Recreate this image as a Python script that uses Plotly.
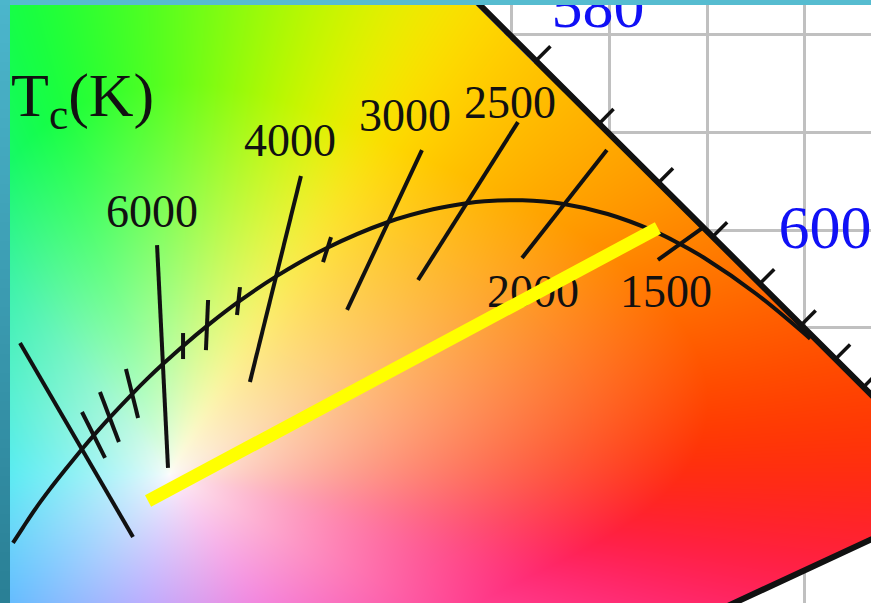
import numpy as np
import plotly.graph_objects as go
import zlib, struct, base64

# ---------------- data (CIE 1931 xy) ----------------
LOCUS_WL = [520, 530, 540, 550, 560, 570, 575, 580, 585, 590, 595, 600, 605, 610,
            615, 620, 625, 630, 640, 650, 700, 380]
LOCUS_X = [0.0743, 0.1547, 0.2296, 0.3016, 0.3731, 0.4441, 0.4788, 0.5125, 0.5448,
           0.5752, 0.6029, 0.6270, 0.6482, 0.6658, 0.6801, 0.6915, 0.7006, 0.7079,
           0.7190, 0.7260, 0.7347, 0.1741]
LOCUS_Y = [0.8338, 0.8059, 0.7543, 0.6923, 0.6245, 0.5547, 0.5202, 0.4866, 0.4544,
           0.4242, 0.3965, 0.3725, 0.3514, 0.3340, 0.3197, 0.3083, 0.2993, 0.2920,
           0.2809, 0.2740, 0.2653, 0.0050]
LOCUS_TICK_WL = [575, 580, 585, 590, 595, 600, 605, 610, 615, 620, 625, 630]

PLANCK_T = [1000, 1200, 1400, 1500, 1600, 1800, 2000, 2200, 2400, 2500, 2700, 3000,
            3500, 4000, 4500, 5000, 5500, 6000, 6500, 7000, 8000, 9000, 10000,
            12000, 15000, 20000, 30000, 50000]
PLANCK_X = [0.6528, 0.6251, 0.5985, 0.5857, 0.5732, 0.5492, 0.5267, 0.5056, 0.4862,
            0.4770, 0.4599, 0.4369, 0.4053, 0.3805, 0.3608, 0.3451, 0.3325, 0.3221,
            0.3135, 0.3064, 0.2952, 0.2869, 0.2807, 0.2719, 0.2637, 0.2565, 0.2501,
            0.2450]
PLANCK_Y = [0.3444, 0.3674, 0.3858, 0.3931, 0.3993, 0.4082, 0.4133, 0.4152, 0.4147,
            0.4137, 0.4106, 0.4041, 0.3907, 0.3768, 0.3636, 0.3516, 0.3411, 0.3318,
            0.3237, 0.3166, 0.3048, 0.2956, 0.2884, 0.2776, 0.2672, 0.2574, 0.2478,
            0.2400]

ISO_T = [10000, 6000, 4000, 3000, 2500, 2000, 1500]
ISO_X1 = [0.2486, 0.3187, 0.3923, 0.4542, 0.5033, 0.5488, 0.5990]
ISO_Y1 = [0.3422, 0.3923, 0.4276, 0.4409, 0.4552, 0.4409, 0.4020]
ISO_X2 = [0.3064, 0.3243, 0.3662, 0.4159, 0.4522, 0.5054, 0.5749]
ISO_Y2 = [0.2430, 0.2783, 0.3223, 0.3591, 0.3744, 0.3857, 0.3847]

MINOR_T = [9000, 8000, 7000, 5500, 5000, 4500, 3500]
MINOR_X1 = [0.2803, 0.2895, 0.3028, 0.3320, 0.3448, 0.3611, 0.4077]
MINOR_Y1 = [0.3069, 0.3171, 0.3289, 0.3473, 0.3642, 0.3708, 0.3964]
MINOR_X2 = [0.2921, 0.2992, 0.3090, 0.3320, 0.3437, 0.3596, 0.4036]
MINOR_Y2 = [0.2834, 0.2916, 0.3038, 0.3340, 0.3386, 0.3565, 0.3836]

LABEL_TEXT = ["6000", "4000", "3000", "2500", "2000", "1500"]
LABEL_X = [0.3161, 0.3867, 0.4455, 0.4992, 0.5110, 0.5790]
LABEL_Y = [0.4075, 0.4435, 0.4563, 0.4630, 0.3663, 0.3663]

WL_LABEL_TEXT = ["580", "600"]
WL_LABEL_X = [0.5442, 0.6604]
WL_LABEL_Y = [0.5120, 0.3985]

TITLE_TEXT = "T<sub>c</sub>(K)"
TITLE_X, TITLE_Y = 0.2440, 0.4660

SEG_X = [0.3141, 0.5749]
SEG_Y = [0.2614, 0.4010]

X_RANGE = [0.24348, 0.68389]
Y_RANGE = [0.20921, 0.51509]

# ---------------- background colour field ----------------
HUE_ANG = [-180, -143, -100, -55, -27, -15, -8, 2, 17, 30, 50, 58, 64, 74, 92, 108, 130, 180]
HUE_COL = ['#30e8f0', '#40b0ff', '#9a80ff', '#f050d0', '#ff4898', '#ff2a78', '#ff1a40',
           '#ff3000', '#ff6800', '#ff9800', '#ffc800', '#ffe000', '#e8f000', '#b8f800',
           '#50ff20', '#10ff40', '#20f0a0', '#30e8f0']
SAT_ANG = [-180, -143, -100, -55, -27, -15, -8, 0, 17, 30, 53, 75, 96, 114, 130, 171, 180]
SAT_R = [0.11, 0.14, 0.12, 0.13, 0.16, 0.18, 0.22, 0.29, 0.28, 0.24, 0.20, 0.20,
         0.20, 0.19, 0.15, 0.11, 0.11]
WHITE = (0.325, 0.275)


def png_uri(rgba):
    h, w, _ = rgba.shape
    raw = b''.join(b'\x00' + rgba[i].tobytes() for i in range(h))

    def chunk(t, d):
        c = struct.pack('>I', len(d)) + t + d
        return c + struct.pack('>I', zlib.crc32(t + d) & 0xffffffff)
    png = (b'\x89PNG\r\n\x1a\n' +
           chunk(b'IHDR', struct.pack('>IIBBBBB', w, h, 8, 6, 0, 0, 0)) +
           chunk(b'IDAT', zlib.compress(raw, 9)) + chunk(b'IEND', b''))
    return 'data:image/png;base64,' + base64.b64encode(png).decode()


def hex2rgb(h):
    return [int(h[i:i + 2], 16) for i in (1, 3, 5)]


def circ_smooth(vals, sigma):
    k = np.arange(-3 * sigma, 3 * sigma + 1)
    w = np.exp(-0.5 * (k / sigma) ** 2)
    w /= w.sum()
    ext = np.concatenate([vals[-len(k):], vals, vals[:len(k)]])
    sm = np.convolve(ext, w, mode='same')
    return sm[len(k):len(k) + len(vals)]


ML, MT = 10, 5
PW, PH = 871 - ML, 603 - MT
pix = (X_RANGE[1] - X_RANGE[0]) / PW
xs = X_RANGE[0] + (np.arange(PW) + 0.5) * pix
ys = Y_RANGE[0] + (np.arange(PH) + 0.5) * pix  # row 0 = bottom
GX, GY = np.meshgrid(xs, ys)
ddx, ddy = GX - WHITE[0], GY - WHITE[1]
ang = np.degrees(np.arctan2(ddy, ddx))
dist = np.hypot(ddx, ddy)

deg = np.arange(-180, 180, 1.0)
R_tab = circ_smooth(np.interp(deg, SAT_ANG, SAT_R), 8)
cols = np.array([hex2rgb(c) for c in HUE_COL], dtype=float)
hue_tab = [circ_smooth(np.interp(deg, HUE_ANG, cols[:, ch]), 4) for ch in range(3)]
deg_w = np.append(deg, 180.0)

R = np.interp(ang, deg_w, np.append(R_tab, R_tab[0]))
t = np.clip(dist / R, 0, 1)
sat = t ** 0.75
img = np.zeros((PH, PW, 4), dtype=float)
for ch in range(3):
    hue = np.interp(ang, deg_w, np.append(hue_tab[ch], hue_tab[ch][0]))
    img[..., ch] = 252 * (1 - sat) + hue * sat

px_ = np.array(LOCUS_X)
py_ = np.array(LOCUS_Y)
inside = np.ones_like(GX, dtype=bool)
n = len(px_)
for i in range(n):
    x1, y1 = px_[i], py_[i]
    x2, y2 = px_[(i + 1) % n], py_[(i + 1) % n]
    cr = (x2 - x1) * (GY - y1) - (y2 - y1) * (GX - x1)
    crw = (x2 - x1) * (WHITE[1] - y1) - (y2 - y1) * (WHITE[0] - x1)
    inside &= (np.sign(cr) == np.sign(crw)) | (cr == 0)
img[..., 3] = np.where(inside, 255, 0)
img = np.clip(np.round(img), 0, 255).astype(np.uint8)
bg_uri = png_uri(img)

# left frame gradient
grad = np.zeros((64, 1, 4), dtype=np.uint8)
top_c, bot_c = np.array([0x4c, 0xb6, 0xcc]), np.array([0x2a, 0x80, 0x96])
for i in range(64):
    f = i / 63
    grad[i, 0, :3] = np.round(top_c * (1 - f) + bot_c * f)
    grad[i, 0, 3] = 255
border_uri = png_uri(grad)

# ---------------- figure ----------------
fig = go.Figure()
fig.add_trace(go.Image(source=bg_uri, x0=xs[0], y0=ys[0], dx=pix, dy=pix,
                       hoverinfo='skip'))

BLACK = '#111111'
fig.add_trace(go.Scatter(x=PLANCK_X, y=PLANCK_Y, mode='lines',
                         line=dict(color=BLACK, width=4, shape='spline'),
                         hoverinfo='skip'))
for i in range(len(ISO_T)):
    fig.add_trace(go.Scatter(x=[ISO_X1[i], ISO_X2[i]], y=[ISO_Y1[i], ISO_Y2[i]],
                             mode='lines', line=dict(color=BLACK, width=4),
                             hoverinfo='skip'))
for i in range(len(MINOR_T)):
    fig.add_trace(go.Scatter(x=[MINOR_X1[i], MINOR_X2[i]], y=[MINOR_Y1[i], MINOR_Y2[i]],
                             mode='lines', line=dict(color=BLACK, width=4),
                             hoverinfo='skip'))

i0 = LOCUS_WL.index(570)
fig.add_trace(go.Scatter(x=LOCUS_X[i0:], y=LOCUS_Y[i0:], mode='lines',
                         line=dict(color=BLACK, width=6), hoverinfo='skip'))
TICK_LEN = 0.0105
for wl in LOCUS_TICK_WL:
    k = LOCUS_WL.index(wl)
    tx = LOCUS_X[k + 1] - LOCUS_X[k - 1]
    ty = LOCUS_Y[k + 1] - LOCUS_Y[k - 1]
    nrm = np.hypot(tx, ty)
    nx, ny = -ty / nrm, tx / nrm
    fig.add_trace(go.Scatter(x=[LOCUS_X[k], LOCUS_X[k] + nx * TICK_LEN],
                             y=[LOCUS_Y[k], LOCUS_Y[k] + ny * TICK_LEN],
                             mode='lines', line=dict(color=BLACK, width=3.5),
                             hoverinfo='skip'))

SERIF = 'Liberation Serif, Times New Roman, serif'
fig.add_trace(go.Scatter(x=LABEL_X, y=LABEL_Y, mode='text', text=LABEL_TEXT,
                         textposition='middle center',
                         textfont=dict(family=SERIF, size=46, color=BLACK),
                         hoverinfo='skip'))
fig.add_trace(go.Scatter(x=WL_LABEL_X, y=WL_LABEL_Y, mode='text', text=WL_LABEL_TEXT,
                         textposition='middle center',
                         textfont=dict(family=SERIF, size=62, color='#1010f5'),
                         hoverinfo='skip'))
fig.add_trace(go.Scatter(x=[TITLE_X], y=[TITLE_Y], mode='text', text=[TITLE_TEXT],
                         textposition='middle right',
                         textfont=dict(family=SERIF, size=62, color=BLACK),
                         hoverinfo='skip'))

fig.add_trace(go.Scatter(x=SEG_X, y=SEG_Y, mode='lines',
                         line=dict(color='#ffff00', width=13), hoverinfo='skip'))

fig.update_layout(
    width=871, height=603, autosize=False,
    margin=dict(l=ML, r=0, t=MT, b=0, pad=0),
    paper_bgcolor='#56bcd0', plot_bgcolor='white',
    showlegend=False, hovermode=False,
    images=[dict(source=border_uri, xref='paper', yref='paper',
                 x=-ML / PW, y=1 + MT / PH, sizex=ML / PW, sizey=603 / PH,
                 xanchor='left', yanchor='top', sizing='stretch', layer='below')],
)
fig.update_xaxes(range=X_RANGE, showgrid=True, gridcolor='#c0c0c0', gridwidth=3,
                 dtick=0.05, tick0=0, showticklabels=False, ticks='',
                 zeroline=False, showline=False, constrain='range')
fig.update_yaxes(range=Y_RANGE, autorange=False, showgrid=True, gridcolor='#c0c0c0',
                 gridwidth=3, dtick=0.05, tick0=0, showticklabels=False, ticks='',
                 zeroline=False, showline=False, scaleanchor='x', scaleratio=1)

fig.write_html('out.html', config={'responsive': False, 'displayModeBar': False},
               post_script="document.body.style.margin='0';"
                           "document.body.style.background='#56bcd0';"
                           "document.body.style.overflow='hidden';")
